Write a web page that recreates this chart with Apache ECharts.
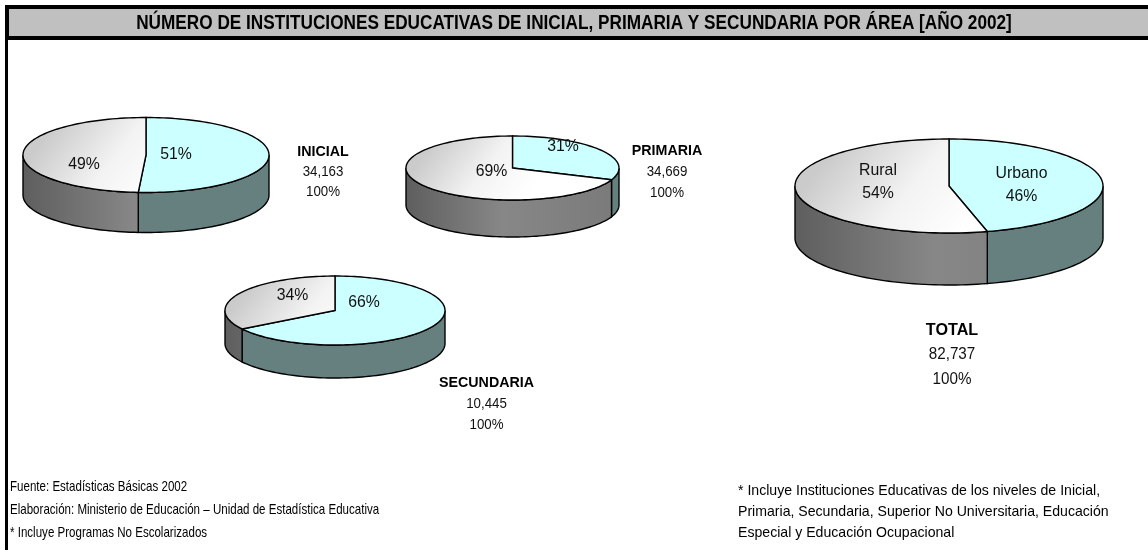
<!DOCTYPE html>
<html>
<head>
<meta charset="utf-8">
<script src="https://cdn.jsdelivr.net/npm/echarts@6/dist/echarts.min.js"></script>
<style>
html,body{margin:0;padding:0;background:#fff}
#main{width:1148px;height:550px}
</style>
</head>
<body>
<div id="main"></div>
<script>
// datos del cuadro
var niveles = ['INICIAL', 'PRIMARIA', 'SECUNDARIA', 'TOTAL'];
var totales = [34163, 34669, 10445, 82737];
var pctUrbano = [51, 31, 66, 46];
var pctRural = [49, 69, 34, 54];
var areas = ['Urbano', 'Rural'];

// ubicacion de cada torta (centro, radios, alto del canto) y de sus etiquetas
var tortas = [
  {cx:146, cy:155, rx:123, ry:37.5, alto:40, etq:[323,152], lh:20, fs:14, off:[[30,-0.5],[-62,9]]},
  {cx:512.5, cy:168, rx:106.5, ry:32, alto:37, etq:[667,151], lh:21, fs:14, off:[[50.5,-22],[-21,3]]},
  {cx:335, cy:310.5, rx:110, ry:34.5, alto:33, etq:[486.5,383], lh:21, fs:14, off:[[29,-8],[-42.5,-15.5]]},
  {cx:949, cy:186, rx:154, ry:47, alto:52, etq:[952,330], lh:25, fs:16, off:[[72.5,-1.5],[-71,-4]], nombres:true}
];

var myChart = echarts.init(document.getElementById('main'));

// [torta, porcion, grado inicial, grado final, porcentaje]
var porciones = [];
for (var i = 0; i < niveles.length; i++) {
  var vals = [pctUrbano[i], pctRural[i]];
  var suma = vals[0] + vals[1];
  var acum = 0;
  for (var j = 0; j < vals.length; j++) {
    var a = acum / suma * 360;
    acum += vals[j];
    var b = acum / suma * 360;
    porciones.push([i, j, a, b, vals[j]]);
  }
}

var pt = function(t, g, dy) {
  var r = g * Math.PI / 180;
  return [t.cx + t.rx * Math.sin(r), t.cy - t.ry * Math.cos(r) + (dy || 0)];
};
var arco = function(t, a, b, dy) {
  var pts = [];
  var n = Math.max(2, Math.ceil((b - a) / 2));
  for (var k = 0; k <= n; k++) pts.push(pt(t, a + (b - a) * k / n, dy));
  return pts;
};

var rellenoTapa = function(t, j) {
  if (j == 0) return '#ccffff';
  return {type:'linear', global:true, x:t.cx - t.rx * 0.7, y:t.cy - t.ry, x2:t.cx + t.rx * 0.1, y2:t.cy + t.ry,
    colorStops:[{offset:0, color:'#cbcbcb'}, {offset:0.55, color:'#f3f3f3'}, {offset:1, color:'#ffffff'}]};
};
var rellenoCanto = function(t, j) {
  if (j == 0) return '#668080';
  return {type:'linear', global:true, x:t.cx - t.rx, y:0, x2:t.cx + t.rx, y2:0,
    colorStops:[{offset:0, color:'#5e5e5e'}, {offset:0.45, color:'#878787'}, {offset:1, color:'#7a7a7a'}]};
};

var cantos = function(params, api) {
  var t = tortas[api.value(0)], j = api.value(1);
  var a = Math.max(api.value(2), 90), b = Math.min(api.value(3), 270);
  if (a >= b) return null;
  var pts = arco(t, a, b, 0).concat(arco(t, a, b, t.alto).reverse());
  return {type:'polygon', shape:{points:pts},
    style:{fill:rellenoCanto(t, j), stroke:'#000', lineWidth:1.4}};
};

var tapas = function(params, api) {
  var i = api.value(0), t = tortas[i], j = api.value(1);
  var a = api.value(2), b = api.value(3);
  var pts = [[t.cx, t.cy]].concat(arco(t, a, b, 0));
  var txt = api.value(4) + '%';
  if (t.nombres) txt = areas[j] + '\n' + txt;
  return {type:'group', children:[
    {type:'polygon', shape:{points:pts}, style:{fill:rellenoTapa(t, j), stroke:'#000', lineWidth:1.4}},
    {type:'text', z2:10, x:t.cx + t.off[j][0], y:t.cy + t.off[j][1], scaleX:0.93,
      style:{text:txt, x:0, y:0, align:'center', verticalAlign:'middle', fill:'#111', lineHeight:23,
      font:'17px "Liberation Sans", Arial, sans-serif'}}
  ]};
};

// textos angostos (imitan Arial Narrow)
var angosto = function(txt, x, y, font, esc, alin) {
  return {type:'text', x:x, y:y, scaleX:esc, style:{text:txt, x:0, y:0, align:alin || 'left',
    verticalAlign:'middle', fill:'#000', font:font}};
};

var graficos = [
  {type:'rect', shape:{x:7, y:7, width:1150, height:31}, style:{fill:'#c0c0c0', stroke:'#000', lineWidth:4}},
  {type:'rect', shape:{x:5, y:5, width:3, height:545}, style:{fill:'#000'}},
  angosto('NÚMERO DE INSTITUCIONES EDUCATIVAS DE INICIAL, PRIMARIA Y SECUNDARIA POR ÁREA [AÑO 2002]',
    574, 23, 'bold 20px "Liberation Sans", Arial, sans-serif', 0.86, 'center'),
  angosto('Fuente: Estadísticas Básicas 2002', 10, 487, '15px "Liberation Sans", Arial, sans-serif', 0.77),
  angosto('Elaboración: Ministerio de Educación – Unidad de Estadística Educativa', 10, 510, '15px "Liberation Sans", Arial, sans-serif', 0.77),
  angosto('* Incluye Programas No Escolarizados', 10, 533, '15px "Liberation Sans", Arial, sans-serif', 0.77),
  {type:'text', x:738, y:480, scaleX:0.94, style:{text:'* Incluye Instituciones Educativas de los niveles de Inicial,\nPrimaria, Secundaria, Superior No Universitaria, Educación\nEspecial y Educación Ocupacional',
    x:0, y:0, lineHeight:21, fill:'#000',
    font:'15px "Liberation Sans", Arial, sans-serif'}}
];
for (var i = 0; i < niveles.length; i++) {
  var t = tortas[i];
  graficos.push({type:'text', x:t.etq[0], y:t.etq[1] - t.lh / 2, scaleX:0.95, style:{
    text:'{b|' + niveles[i] + '}\n' + totales[i].toLocaleString('en-US') + '\n100%',
    x:0, y:0, align:'center', verticalAlign:'top', fill:'#111',
    lineHeight:t.lh, font:t.fs + 'px "Liberation Sans", Arial, sans-serif',
    rich:{b:{fontWeight:'bold', fontSize:t.fs + 1, lineHeight:t.lh, fill:'#000'}}}});
}

var option = {
  backgroundColor:'#fff',
  animation:false,
  graphic:graficos,
  series:[
    {type:'custom', coordinateSystem:'none', renderItem:cantos, data:porciones, silent:true},
    {type:'custom', coordinateSystem:'none', renderItem:tapas, data:porciones, silent:true, z:3}
  ]
};
myChart.setOption(option);
</script>
</body>
</html>
